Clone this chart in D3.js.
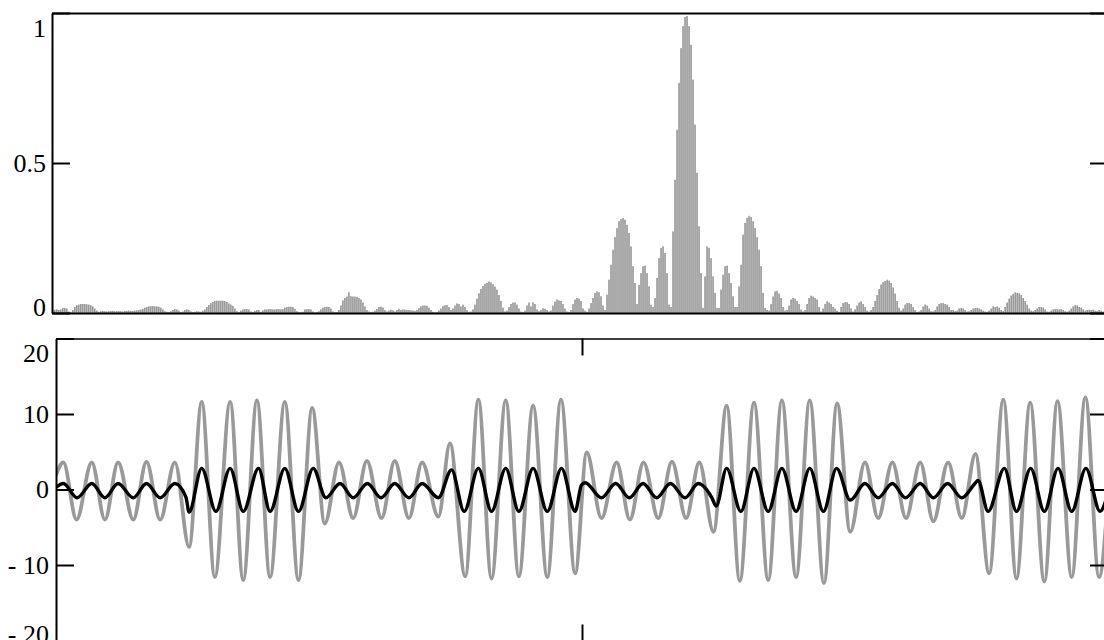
<!DOCTYPE html>
<html>
<head>
<meta charset="utf-8">
<script src="https://cdn.jsdelivr.net/npm/d3@7"></script>
<style>
  body { margin: 0; background: #fff; }
  svg text { font-family: "Liberation Serif", "Times New Roman", serif; font-size: 26px; fill: #000; }
</style>
</head>
<body>
<div id="chart"></div>
<script>
const WIDTH = 1104;
const HEIGHT = 640;
const TOP_PANEL = { left: 52, right: 1108, top: 13, bottom: 313 };
const BOTTOM_PANEL = { left: 56, right: 1108, top: 338.5, bottom: 640.5 };
const TICK = 18;
let svg;

// spectrum magnitude, in thousandths, one value per bar
const spectrumMilli = [
  8,11,12,10,12,17,17,15,5,3,
  10,20,26,28,30,30,30,29,28,26,22,15,8,
  4,6,7,6,5,6,7,7,6,6,7,6,5,7,7,8,7,7,8,9,10,12,
  14,18,20,22,23,23,22,22,21,18,12,6,
  4,3,6,10,13,12,8,3,5,10,12,10,5,3,4,6,5,
  4,8,
  12,20,27,33,37,40,41,41,41,41,40,37,32,28,24,15,6,
  3,8,12,13,13,12,5,3,7,10,10,4,9,12,12,13,13,12,12,13,13,12,13,
  18,20,21,21,20,14,6,
  3,2,4,12,13,13,12,5,2,3,6,
  12,18,20,21,20,15,5,3,
  3,10,
  25,42,50,55,69,56,55,55,54,50,45,35,22,10,
  5,3,4,8,
  14,20,21,18,10,
  5,8,11,9,5,10,14,10,12,11,10,10,9,8,7,10,
  16,22,25,25,24,18,10,4,
  2,3,8,
  15,23,26,27,20,10,
  15,25,32,30,22,28,20,10,
  4,5,12,
  28,48,66,80,90,97,100,105,102,96,88,78,60,40,18,
  5,8,
  20,30,35,35,28,15,
  5,3,8,
  25,35,22,36,30,12,
  6,10,16,14,10,5,8,
  25,38,45,42,40,30,15,5,
  3,10,
  30,45,50,48,40,15,
  8,4,
  15,33,50,67,72,69,56,25,
  10,
  61,111,161,211,253,283,306,313,317,311,294,267,222,156,100,
  30,
  94,133,156,158,133,89,
  28,20,
  50,117,183,217,222,200,133,
  28,20,
  272,444,611,767,883,956,987,990,956,894,778,628,467,289,133,
  17,
  122,222,217,183,122,67,
  17,17,
  78,128,156,158,133,100,56,
  20,20,
  89,161,261,300,317,324,320,306,283,253,211,156,67,
  17,10,8,
  30,55,72,74,65,50,20,
  8,10,
  25,45,50,48,40,30,12,
  5,10,
  30,50,58,55,50,45,20,
  5,
  15,30,39,35,30,20,15,8,
  4,
  20,33,36,36,30,15,
  5,12,
  25,35,39,30,20,8,
  5,10,
  20,40,60,80,95,103,107,111,108,100,85,65,40,18,
  8,15,
  28,33,33,30,20,10,
  4,5,10,
  22,28,25,15,
  6,5,10,
  22,30,33,33,30,28,20,10,
  10,6,8,
  15,17,15,10,
  5,6,
  10,15,17,17,15,12,8,
  5,4,8,
  15,22,20,22,18,10,
  6,
  20,35,48,58,64,69,67,66,60,50,40,28,15,
  8,6,10,
  15,20,20,18,12,
  5,4,
  8,12,13,13,12,13,10,6,
  4,8,
  15,22,26,25,20,18,12,
  8,10,11,10,11,8,6,10,
  8,5,6,8
];
const spectrumTicks = [0, 500, 1000];
const spectrumTickLabels = ['0', '0.5', '1'];

// time signal, read at its turning points
const grayTime = [
  0.000, 0.014, 0.039, 0.068, 0.093, 0.118, 0.147, 0.172, 0.198, 0.226,
  0.253, 0.277, 0.302, 0.331, 0.356, 0.382, 0.407, 0.435, 0.461, 0.487,
  0.511, 0.538, 0.565, 0.591, 0.619, 0.644, 0.671, 0.696, 0.727, 0.749,
  0.778, 0.803, 0.828, 0.855, 0.880, 0.907, 0.934, 0.960, 0.987, 1.009,
  1.037, 1.066, 1.091, 1.117, 1.145, 1.171, 1.198, 1.223, 1.250, 1.275,
  1.300, 1.327, 1.354, 1.380, 1.407, 1.433, 1.460, 1.485, 1.510, 1.538,
  1.563, 1.590, 1.616, 1.643, 1.668, 1.696, 1.722, 1.748, 1.774, 1.801,
  1.826, 1.852, 1.879, 1.904, 1.931, 1.957, 1.983, 2.000
];
const grayValue = [
  1.9, 3.6, -4.0, 3.6, -4.0, 3.6, -4.0, 3.7, -4.0, 3.6,
  -7.6, 11.6, -11.6, 11.6, -12.0, 11.8, -11.6, 11.6, -12.0, 10.8,
  -4.5, 3.6, -3.8, 3.8, -3.8, 3.8, -3.8, 3.6, -3.6, 6.1,
  -11.5, 11.9, -11.8, 11.8, -11.5, 11.1, -11.6, 11.9, -11.1, 4.9,
  -3.8, 3.6, -4.0, 3.6, -3.8, 3.7, -3.8, 3.6, -5.6, 11.1,
  -12.1, 11.5, -12.0, 11.8, -11.6, 11.8, -12.4, 11.4, -5.6, 3.6,
  -3.8, 3.6, -3.8, 3.6, -4.2, 3.6, -3.8, 4.7, -11.1, 11.9,
  -11.8, 11.5, -12.2, 11.7, -11.6, 12.2, -11.6, -1.0
];
const blackTime = [
  0.000, 0.014, 0.040, 0.068, 0.093, 0.118, 0.147, 0.172, 0.198, 0.226,
  0.247, 0.253, 0.277, 0.304, 0.331, 0.356, 0.385, 0.407, 0.435, 0.461,
  0.489, 0.513, 0.540, 0.565, 0.592, 0.618, 0.644, 0.671, 0.696, 0.727,
  0.752, 0.776, 0.803, 0.828, 0.855, 0.880, 0.907, 0.934, 0.961, 0.987,
  0.999, 1.006, 1.037, 1.064, 1.090, 1.116, 1.142, 1.168, 1.196, 1.221,
  1.247, 1.255, 1.275, 1.302, 1.327, 1.354, 1.380, 1.407, 1.433, 1.459,
  1.484, 1.510, 1.538, 1.563, 1.590, 1.615, 1.643, 1.668, 1.695, 1.722,
  1.747, 1.753, 1.772, 1.803, 1.826, 1.853, 1.879, 1.905, 1.931, 1.958,
  1.985, 2.000
];
const blackValue = [
  0.3, 0.8, -1.1, 0.8, -1.1, 0.8, -1.1, 0.8, -1.1, 0.8,
  -1.0, -3.0, 2.8, -2.9, 2.8, -2.9, 2.8, -2.9, 2.8, -2.9,
  2.8, -1.1, 0.8, -1.1, 0.8, -1.1, 0.8, -1.1, 0.8, -1.1,
  2.6, -2.9, 2.8, -2.9, 2.8, -2.9, 2.8, -2.9, 2.8, -2.9,
  0.6, 0.9, -1.1, 0.8, -1.1, 0.8, -1.1, 0.8, -1.1, 0.8,
  -1.1, -2.2, 2.8, -2.9, 2.8, -2.9, 2.8, -2.9, 2.8, -2.9,
  2.8, -1.4, 0.8, -1.1, 0.8, -1.1, 0.8, -1.1, 0.8, -1.1,
  0.8, 1.2, -2.9, 2.8, -2.9, 2.8, -2.9, 2.8, -2.9, 2.8,
  -2.9, -0.5
];
const signalTicks = [-20, -10, 0, 10, 20];
const signalTickLabels = ['- 20', '- 10', '0', '10', '20'];
const timeTicks = [1];

function placeLabels(axisGroup, scale, panel) {
  axisGroup.selectAll('.tick text')
    .attr('dy', null)
    .attr('y', (d) => {
      let base = Math.min(Math.max(scale(d) + 8, panel.top + 23), panel.bottom + 2);
      return base - scale(d);
    });
}

function styleAxis(g, width) {
  g.selectAll('path.domain').attr('stroke', '#000').attr('stroke-width', width);
  g.selectAll('.tick line').attr('stroke', '#000').attr('stroke-width', 2);
}

function buildTopPanel() {
  let p = TOP_PANEL;
  let x = d3.scaleBand()
    .domain(d3.range(spectrumMilli.length))
    .range([p.left, p.right])
    .paddingInner(0.2);
  let y = d3.scaleLinear().domain([0, 1000]).range([p.bottom, p.top]);

  svg.append('g').attr('class', 'bars')
    .selectAll('rect')
    .data(spectrumMilli)
    .enter()
    .append('rect')
    .attr('x', (d, i) => x(i))
    .attr('width', x.bandwidth())
    .attr('y', (d) => y(d))
    .attr('height', (d) => y(0) - y(d))
    .attr('fill', '#969696');

  let left = svg.append('g')
    .attr('transform', `translate(${p.left},0)`)
    .call(d3.axisLeft(y).tickValues(spectrumTicks).tickSize(-TICK).tickSizeOuter(0)
      .tickPadding(6).tickFormat((d, i) => spectrumTickLabels[i]));
  styleAxis(left, 2);
  placeLabels(left, y, p);

  let right = svg.append('g')
    .attr('transform', `translate(${p.right},0)`)
    .call(d3.axisRight(y).tickValues(spectrumTicks).tickSize(-TICK).tickSizeOuter(0).tickFormat(''));
  styleAxis(right, 2);

  let xs = d3.scaleLinear().domain([0, 1]).range([p.left, p.right]);
  let top = svg.append('g')
    .attr('transform', `translate(0,${p.top})`)
    .call(d3.axisTop(xs).tickValues([]).tickSizeOuter(0));
  styleAxis(top, 2);
  let bottom = svg.append('g')
    .attr('transform', `translate(0,${p.bottom})`)
    .call(d3.axisBottom(xs).tickValues([]).tickSizeOuter(0));
  styleAxis(bottom, 2);
}

function buildBottomPanel() {
  let p = BOTTOM_PANEL;
  let x = d3.scaleLinear().domain([0, 2]).range([p.left, p.right]);
  let y = d3.scaleLinear().domain([-20, 20]).range([p.bottom, p.top]);

  svg.append('clipPath').attr('id', 'signalClip')
    .append('rect')
    .attr('x', p.left).attr('y', p.top)
    .attr('width', p.right - p.left).attr('height', p.bottom - p.top);

  let line = d3.line()
    .x((d) => x(d[0]))
    .y((d) => y(d[1]))
    .curve(d3.curveMonotoneX);

  let series = [
    { t: grayTime, v: grayValue, color: '#999999', width: 3.8 },
    { t: blackTime, v: blackValue, color: '#000000', width: 3.4 },
  ];

  svg.append('g').attr('clip-path', 'url(#signalClip)')
    .selectAll('path')
    .data(series)
    .enter()
    .append('path')
    .attr('d', (s) => line(d3.zip(s.t, s.v)))
    .attr('fill', 'none')
    .attr('stroke', (s) => s.color)
    .attr('stroke-width', (s) => s.width)
    .attr('stroke-linejoin', 'round');

  let left = svg.append('g')
    .attr('transform', `translate(${p.left},0)`)
    .call(d3.axisLeft(y).tickValues(signalTicks).tickSize(-TICK).tickSizeOuter(0)
      .tickPadding(7).tickFormat((d, i) => signalTickLabels[i]));
  styleAxis(left, 2);
  placeLabels(left, y, p);

  let right = svg.append('g')
    .attr('transform', `translate(${p.right},0)`)
    .call(d3.axisRight(y).tickValues(signalTicks).tickSize(-TICK).tickSizeOuter(0).tickFormat(''));
  styleAxis(right, 2);

  let top = svg.append('g')
    .attr('transform', `translate(0,${p.top})`)
    .call(d3.axisTop(x).tickValues(timeTicks).tickSize(-17).tickSizeOuter(0).tickFormat(''));
  styleAxis(top, 1.5);
  let bottom = svg.append('g')
    .attr('transform', `translate(0,${p.bottom})`)
    .call(d3.axisBottom(x).tickValues(timeTicks).tickSize(-16).tickSizeOuter(0).tickFormat(''));
  styleAxis(bottom, 2);
}

function buildChart(selector) {
  svg = d3.select(selector).append('svg')
    .attr('width', WIDTH)
    .attr('height', HEIGHT)
    .style('display', 'block');

  buildTopPanel();
  buildBottomPanel();
}

buildChart('#chart');
</script>
</body>
</html>
